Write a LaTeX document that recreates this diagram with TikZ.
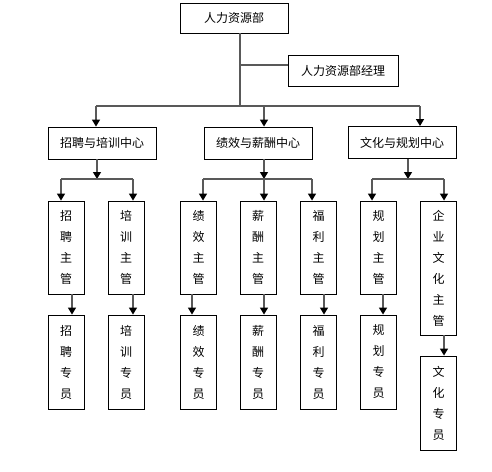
\documentclass[tikz,border=0pt]{standalone}
\usepackage{fontspec}
\setmainfont{Noto Sans CJK SC}
\usetikzlibrary{arrows.meta}
\tikzset{
  box/.style={draw=black, line width=0.9pt, fill=white, inner sep=0pt, font=\fontsize{12}{21}\selectfont, align=center},
  hbox/.style={box, minimum width=108pt, minimum height=32pt},
  vbox/.style={box, minimum width=36pt, minimum height=93pt},
  conn/.style={draw=black!65, line width=1.3pt},
  arr/.style={conn, -{Triangle[width=8pt,length=7pt,fill=black,color=black]}}
}
\begin{document}
\begin{tikzpicture}[x=1pt,y=-1pt]
\useasboundingbox (0,0) rectangle (492,471);
% top
\node[box, minimum width=108pt, minimum height=30pt] (top) at (234,18) {人力资源部};
\node[box, minimum width=110pt, minimum height=31pt] (mgr) at (343,70.5) {人力资源部经理};
% centers
\node[hbox] (c1) at (102,143) {招聘与培训中心};
\node[hbox] (c2) at (258,143) {绩效与薪酬中心};
\node[hbox] (c3) at (402,142.5) {文化与规划中心};
% heads
\node[vbox] (s1) at (66,247.5) {招\\聘\\主\\管};
\node[vbox] (s2) at (126,247.5) {培\\训\\主\\管};
\node[vbox] (s3) at (198.5,247.5) {绩\\效\\主\\管};
\node[vbox] (s4) at (258,247.5) {薪\\酬\\主\\管};
\node[vbox] (s5) at (318.5,247.5) {福\\利\\主\\管};
\node[vbox] (s6) at (378.5,247.5) {规\\划\\主\\管};
\node[vbox, minimum height=134pt] (s7) at (438.5,268) {企\\业\\文\\化\\主\\管};
% staff
\node[vbox, minimum height=94pt] (p1) at (66,362) {招\\聘\\专\\员};
\node[vbox, minimum height=94pt] (p2) at (126,362) {培\\训\\专\\员};
\node[vbox, minimum height=94pt] (p3) at (198.5,362) {绩\\效\\专\\员};
\node[vbox, minimum height=94pt] (p4) at (258,362) {薪\\酬\\专\\员};
\node[vbox, minimum height=94pt] (p5) at (318.5,362) {福\\利\\专\\员};
\node[vbox, minimum height=94pt] (p6) at (378.5,362) {规\\划\\专\\员};
\node[vbox, minimum height=94pt] (p7) at (438.5,403) {文\\化\\专\\员};
% level 1 connectors
\coordinate (t0) at ([xshift=6pt]top.south);
\coordinate (j1) at (240,106);
\coordinate (jm) at (240,65);
\coordinate (jl) at (96,106);
\coordinate (jr) at (420,106);
\draw[conn] (t0) -- (j1);
\draw[conn] (jm) -- (jm -| mgr.west);
\draw[conn] (jl) -- (jr);
\draw[arr] (jl) -- (jl |- c1.north);
\draw[arr] (j1 -| c2.north) ++(6,0) -- ([xshift=6pt]c2.north);
\draw[arr] (jr) -- (jr |- c3.north);
% level 2: c1
\coordinate (a1) at (97,179);
\draw[arr] (a1 |- c1.south) -- (a1);
\draw[conn] ([xshift=-5pt]s1.north |- a1) -- ([xshift=7pt]s2.north |- a1);
\draw[arr] ([xshift=-5pt]s1.north |- a1) -- ([xshift=-5pt]s1.north);
\draw[arr] ([xshift=7pt]s2.north |- a1) -- ([xshift=7pt]s2.north);
% level 2: c2
\coordinate (a2) at (264,179);
\draw[arr] (a2 |- c2.south) -- (a2);
\draw[conn] ([xshift=4.5pt]s3.north |- a2) -- ([xshift=-6.5pt]s5.north |- a2);
\draw[arr] ([xshift=4.5pt]s3.north |- a2) -- ([xshift=4.5pt]s3.north);
\draw[arr] ([xshift=6pt]s4.north |- a2) -- ([xshift=6pt]s4.north);
\draw[arr] ([xshift=-6.5pt]s5.north |- a2) -- ([xshift=-6.5pt]s5.north);
% level 2: c3
\coordinate (a3) at (408,179);
\draw[arr] (a3 |- c3.south) -- (a3);
\draw[conn] ([xshift=-6.5pt]s6.north |- a3) -- ([xshift=5.5pt]s7.north |- a3);
\draw[arr] ([xshift=-6.5pt]s6.north |- a3) -- ([xshift=-6.5pt]s6.north);
\draw[arr] ([xshift=5.5pt]s7.north |- a3) -- ([xshift=5.5pt]s7.north);
% level 3
\draw[arr] ([xshift=6pt]s1.south) -- ([xshift=6pt]p1.north);
\draw[arr] ([xshift=7pt]s2.south) -- ([xshift=7pt]p2.north);
\draw[arr] ([xshift=-6.5pt]s3.south) -- ([xshift=-6.5pt]p3.north);
\draw[arr] ([xshift=6pt]s4.south) -- ([xshift=6pt]p4.north);
\draw[arr] ([xshift=5.5pt]s5.south) -- ([xshift=5.5pt]p5.north);
\draw[arr] ([xshift=4.5pt]s6.south) -- ([xshift=4.5pt]p6.north);
\draw[arr] ([xshift=5.5pt]s7.south) -- ([xshift=5.5pt]p7.north);
\end{tikzpicture}
\end{document}
